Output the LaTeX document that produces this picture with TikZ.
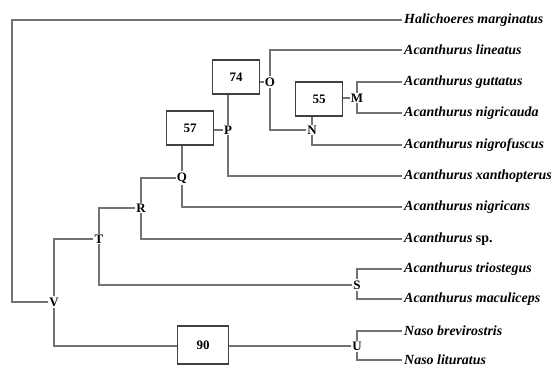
\documentclass[tikz,border=0pt]{standalone}
\usepackage{fontspec}
\setmainfont{Liberation Serif}
\begin{document}
\begin{tikzpicture}[
        x=1bp, y=-1bp, % coordinates in pixels, y downwards
        branch/.style = {draw=black!55, line width=1.3bp},
        taxon/.style = {anchor=west, inner sep=2bp, font=\fontsize{14}{16}\selectfont\bfseries\itshape},
        split/.style = {inner sep=1bp, font=\fontsize{13}{14}\selectfont\bfseries}, % node letters
        boot/.style = {draw=black!75, line width=1.3bp, fill=white, minimum width=47bp, minimum height=34bp,
                       font=\fontsize{13}{15}\selectfont\bfseries},
    ]
    \useasboundingbox (0,0) rectangle (552,367);

    % taxa
    \node[taxon] (hm)  at (402,20)  {Halichoeres marginatus};
    \node[taxon] (al)  at (402,50)  {Acanthurus lineatus};
    \node[taxon] (ag)  at (402,82)  {Acanthurus guttatus};
    \node[taxon] (anc) at (402,113) {Acanthurus nigricauda};
    \node[taxon] (anf) at (402,145) {Acanthurus nigrofuscus};
    \node[taxon] (ax)  at (402,176) {Acanthurus xanthopterus};
    \node[taxon] (an)  at (402,207) {Acanthurus nigricans};
    \node[taxon] (asp) at (402,239) {Acanthurus {\upshape sp.}};
    \node[taxon] (at)  at (402,269) {Acanthurus triostegus};
    \node[taxon] (am)  at (402,299) {Acanthurus maculiceps};
    \node[taxon] (nb)  at (402,331) {Naso brevirostris};
    \node[taxon] (nl)  at (402,360) {Naso lituratus};

    % inner nodes
    \node[split] (M) at (357,98)  {M};
    \node[split] (N) at (312,130) {N};
    \node[split] (O) at (270,82)  {O};
    \node[split] (P) at (228,130) {P};
    \node[split] (Q) at (182,178) {Q};
    \node[split] (R) at (141,208) {R};
    \node[split] (S) at (357,285) {S};
    \node[split] (T) at (99,239)  {T};
    \node[split] (U) at (357,346) {U};
    \node[split] (V) at (54,302)  {V};
    \coordinate (root) at (12,20);

    % bootstrap boxes
    \node[boot] (b74) at (236,77)  {74};
    \node[boot] (b57) at (190,128) {57};
    \node[boot] (b55) at (319,99)  {55};
    \node[boot, minimum width=51bp, minimum height=38bp] (b90) at (203,345) {90};

    % branches
    \draw[branch] (V) -| (root) -- (hm);
    \draw[branch] (M) |- (ag) (M) |- (anc) (M) -- (M -| b55.east);
    \draw[branch] (N) |- (anf) (N) -- (N |- b55.south);
    \draw[branch] (O) |- (al) (O) |- (N) (O) -- (O -| b74.east);
    \draw[branch] (P) |- (ax) (P) -- (P |- b74.south) (P) -- (P -| b57.east);
    \draw[branch] (Q) |- (an) (Q) -- (Q |- b57.south) (Q) -| (R);
    \draw[branch] (R) |- (asp) (R) -| (T);
    \draw[branch] (S) |- (at) (S) |- (am);
    \draw[branch] (T) |- (S) (T) -| (V);
    \draw[branch] (U) |- (nb) (U) |- (nl) (U) -- (U -| b90.east);
    \draw[branch] (V) |- (U -| b90.west);
\end{tikzpicture}
\end{document}
